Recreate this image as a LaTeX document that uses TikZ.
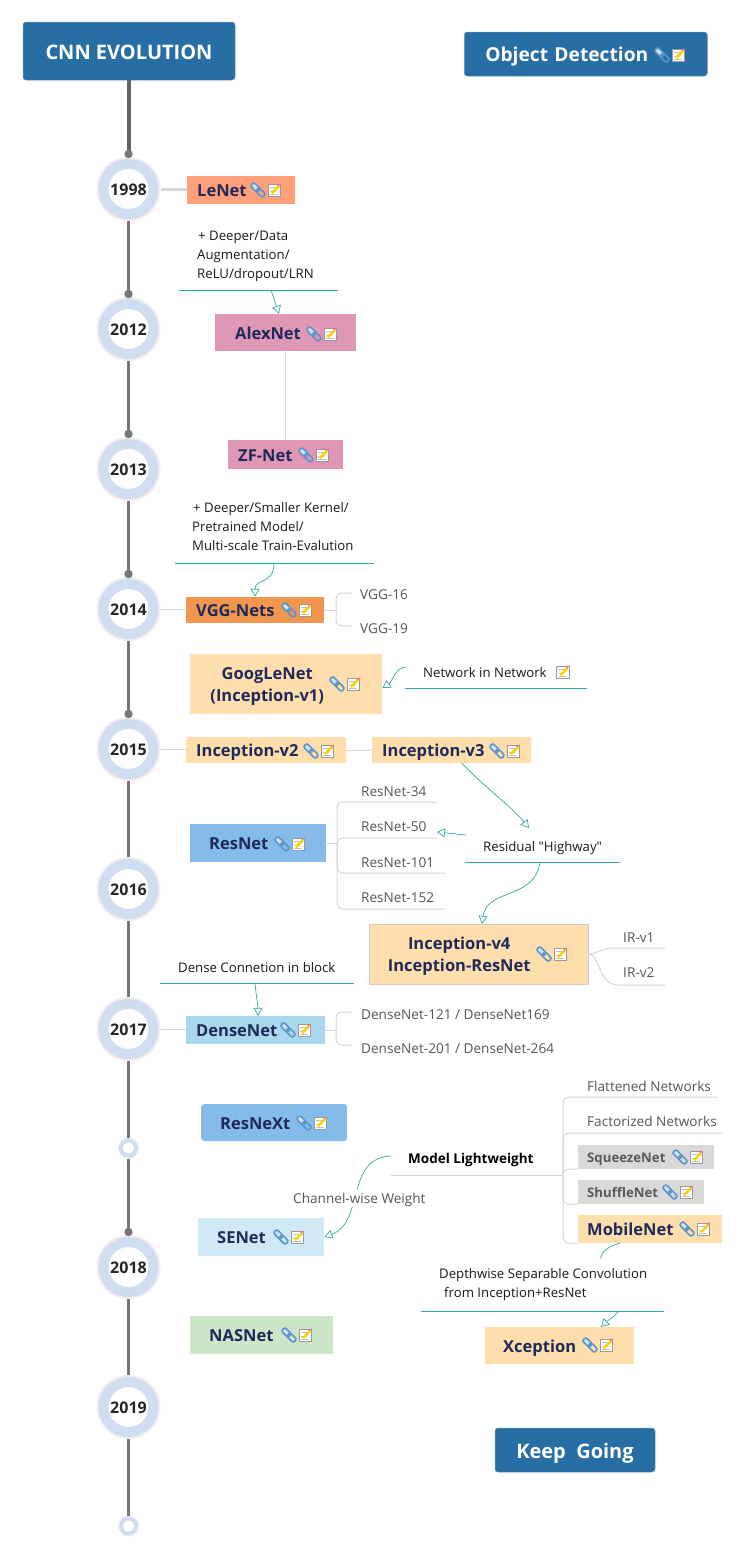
\documentclass[tikz,border=0pt]{standalone}
\usepackage{fontspec}
\setmainfont{Open Sans}[BoldFont={Open Sans Bold}]
\usetikzlibrary{arrows.meta}

\definecolor{rootblue}{HTML}{266EA3}
\definecolor{ringblue}{HTML}{D0DDF0}
\definecolor{ringpink}{HTML}{F3EAF3}
\definecolor{spine}{HTML}{777777}
\definecolor{teal}{HTML}{2FA8A0}
\definecolor{navy}{HTML}{1F2A5A}
\definecolor{branch}{HTML}{D6D6D6}
\definecolor{leaftext}{HTML}{555555}
\definecolor{chain}{HTML}{5A95CC}
\definecolor{lenetc}{HTML}{FFA07A}
\definecolor{alexc}{HTML}{E096B5}
\definecolor{vggc}{HTML}{F2964F}
\definecolor{inceptc}{HTML}{FEDEAC}
\definecolor{resc}{HTML}{85BBE8}
\definecolor{densec}{HTML}{A8D7EE}
\definecolor{senetc}{HTML}{CFE9F6}
\definecolor{nasc}{HTML}{CDE6C8}
\definecolor{lightc}{HTML}{D9D9D9}

\newcommand{\labstrut}{\leavevmode\vrule width 0pt height 1.04em depth .2em\relax}

\tikzset{
	lab/.style={inner sep=0,execute at begin node=\labstrut,execute at end node=\labstrut},
	rootbox/.style={rectangle,rounded corners=3,fill=rootblue,draw=rootblue!70!white,line width=.5,text=white,font=\bfseries\fontsize{20}{22}\selectfont,align=left,lab},
	yearring/.style={circle,minimum size=50,inner sep=0,outer sep=7,line width=10,draw=ringblue,fill=white,preaction={draw=ringpink,line width=14},font=\bfseries\fontsize{16}{20}\selectfont,text=black!85,lab},
	tickring/.style={circle,minimum size=15,inner sep=0,outer sep=3,line width=4,draw=ringblue,fill=white,preaction={draw=ringpink,line width=6}},
	netbox/.style={rectangle,anchor=west,lab,inner ysep=0,inner xsep=10,align=left,text=navy,font=\bfseries\fontsize{16.5}{21}\selectfont},
	paper/.style={lab,anchor=west,align=left,text=black!90,font=\fontsize{13.2}{19}\selectfont},
	leaf/.style={lab,anchor=west,text=leaftext,font=\fontsize{13.6}{19}\selectfont},
	spineline/.style={draw=spine,line width=2.5},
	twig/.style={draw=branch,line width=1},
	stem/.style={draw=branch,line width=3},
	noterule/.style={draw=teal,line width=.8},
	noteto/.style={draw=teal,line width=.7,-{Triangle[open,length=8,width=9]}},
	linkicon/.pic={
		\begin{scope}[rotate=-45]
			\draw[draw=chain,fill=chain!25!white,line width=1.7,rounded corners=2.2] (-8.5,-2.5) rectangle (1,2.5);
			\draw[draw=chain,line width=1.7,rounded corners=2.2] (-1,-2.5) rectangle (8.5,2.5);
		\end{scope}
	},
	noteicon/.pic={
		\draw[draw=black!40,fill=white,line width=.8] (-6.5,-6) rectangle (6,6.5);
		\draw[draw=black!25,line width=.6] (-4.5,-2.5) -- (2,-2.5) (-4.5,1) -- (1,1) (-4.5,4) -- (3,4);
		\draw[draw=yellow!70!orange,line width=2.5] (-2.5,3) -- (4.5,-4);
		\fill[red!60!white] (4,-3.5) -- (6.5,-6.5) -- (3,-5) -- cycle;
	},
	iconpair/.pic={
		\pic at (0,0) {linkicon};
		\pic at (16.5,0) {noteicon};
	}
}

\begin{document}
\begin{tikzpicture}[x=1pt,y=-1pt]
	\useasboundingbox (0,0) rectangle (743,1558);

	% header boxes
	\node[rootbox,minimum width=212,minimum height=58] (cnnroot) at (129,51) {CNN EVOLUTION};
	\node[rootbox,minimum width=243,minimum height=44,anchor=west,text width=201,inner xsep=21,font=\bfseries\fontsize{19.2}{22}\selectfont] (objdet) at (464,54) {Object Detection};
	\node[rootbox,minimum width=160,minimum height=44] (keepgoing) at (575,1450) {Keep\ \ Going};

	% timeline
	\foreach \yname/\ylab/\ypos in {y1998/1998/189,y2012/2012/329,y2013/2013/469,y2014/2014/609,y2015/2015/749,y2016/2016/889,y2017/2017/1029,y2018/2018/1267,y2019/2019/1407}
		\node[yearring] (\yname) at (128.5,\ypos) {\ylab};
	\node[tickring] (tickA) at (128.5,1148) {};
	\node[tickring] (tickB) at (128.5,1526) {};

	\draw[spine!85!black,line width=4] (y1998.north |- cnnroot.south) -- (y1998.north);
	\draw[spineline] (y1998.south) -- (y2012.north);
	\draw[spineline] (y2012.south) -- (y2013.north);
	\draw[spineline] (y2013.south) -- (y2014.north);
	\draw[spineline] (y2014.south) -- (y2015.north);
	\draw[spineline] (y2015.south) -- (y2016.north);
	\draw[spineline] (y2016.south) -- (y2017.north);
	\draw[spineline] (y2017.south) -- (tickA.north);
	\draw[spineline] (tickA.south) -- (y2018.north);
	\draw[spineline] (y2018.south) -- (y2019.north);
	\draw[spineline] (y2019.south) -- (tickB.north);
	\foreach \dotname in {y1998,y2012,y2013,y2014,y2015,y2018}
		\fill[spine] ([yshift=3]\dotname.north) circle (4.2);

	% network boxes
	\node[netbox,fill=lenetc,minimum height=28,text width=88] (lenet) at (187,190) {LeNet};
	\node[netbox,fill=alexc,minimum height=37,text width=101,inner xsep=20] (alexnet) at (215,332.5) {AlexNet};
	\node[netbox,fill=alexc,minimum height=29,text width=95] (zfnet) at (228,454.5) {ZF-Net};
	\node[netbox,fill=vggc,minimum height=26,text width=118] (vggnets) at (186,610) {VGG-Nets};
	\node[netbox,fill=inceptc,minimum height=60,text width=192,inner xsep=0,align=center] (googlenet) at (190,684) {GoogLeNet\kern38pt\\(Inception-v1)\kern38pt};
	\node[netbox,fill=inceptc,minimum height=26,text width=140] (inceptiontwo) at (186,750) {Inception-v2};
	\node[netbox,fill=inceptc,minimum height=26,text width=139] (inceptionthree) at (372,750) {Inception-v3};
	\node[netbox,fill=resc,minimum height=38,text width=98,inner xsep=19] (resnet) at (190,843) {ResNet};
	\node[netbox,fill=inceptc,draw=black!20,minimum height=60,text width=219,inner xsep=0,align=center] (inceptionfour) at (369,954) {Inception-v4\kern39pt\\Inception-ResNet\kern39pt};
	\node[netbox,fill=densec,minimum height=28,text width=119] (densenet) at (186,1030) {DenseNet};
	\node[netbox,fill=resc,rounded corners=3,minimum height=37,text width=108,inner xsep=19] (resnext) at (201,1122.5) {ResNeXt};
	\node[netbox,fill=senetc,minimum height=38,text width=88,inner xsep=19] (senet) at (198,1237) {SENet};
	\node[netbox,fill=nasc,minimum height=38,text width=105,inner xsep=19] (nasnet) at (190,1335) {NASNet};
	\node[netbox,fill=lightc,minimum height=24,text width=118,inner xsep=9,text=black!65,font=\bfseries\fontsize{13.2}{18}\selectfont] (squeezenet) at (578,1157) {SqueezeNet};
	\node[netbox,fill=lightc,minimum height=24,text width=108,inner xsep=9,text=black!65,font=\bfseries\fontsize{13.2}{18}\selectfont] (shufflenet) at (578,1192) {ShuffleNet};
	\node[netbox,fill=inceptc,minimum height=28,text width=126,inner xsep=9] (mobilenet) at (578,1229) {MobileNet};
	\node[netbox,fill=inceptc,minimum height=37,text width=113,inner xsep=18] (xception) at (485,1345.5) {Xception};

	\foreach \ix/\iy in {662/55,258/190,314/334,306/455,289/610,337/684,311/751,497/751,282/844,544/954,288/1030,304/1123,281/1237,289/1335,680/1157,670/1192,687/1229,590/1345}
		\pic at (\ix,\iy) {iconpair};
	\pic at (563,672) {noteicon};

	% stems on the timeline
	\draw[stem] (y1998.east) -- (lenet.west |- y1998.east);
	\draw[twig] (y2014.east) -- (vggnets.west |- y2014.east);
	\draw[twig] (y2015.east) -- (inceptiontwo.west |- y2015.east);
	\draw[twig] (inceptiontwo.east) -- (inceptionthree.west);
	\draw[twig] (y2017.east) -- (densenet.west |- y2017.east);
	\draw[twig] (alexnet.south) -- (zfnet.north -| alexnet.south);

	% VGG leaves
	\node[leaf] (vggsixteen) at (360,594) {VGG-16};
	\node[leaf] (vggnineteen) at (360,628) {VGG-19};
	\coordinate (vggfork) at (336,610);
	\coordinate (vggup) at (352,593);
	\coordinate (vggdown) at (352,626);
	\draw[twig] (vggnets.east) -- (vggfork);
	\draw[twig,rounded corners=6] (vggup) -- (vggup -| vggfork) -- (vggdown -| vggfork) -- (vggdown);

	% ResNet leaves
	\node[leaf] (resthreefour) at (361,791) {ResNet-34};
	\node[leaf] (resfifty) at (361,826) {ResNet-50};
	\node[leaf] (reshundred) at (361,862) {ResNet-101};
	\node[leaf] (resonefive) at (361,897) {ResNet-152};
	\coordinate (resfork) at (337,843);
	\coordinate (resendA) at (437,802);
	\coordinate (resendB) at (437,838);
	\coordinate (resendC) at (445,873);
	\coordinate (resendD) at (445,909);
	\draw[twig] (resnet.east) -- (resfork);
	\draw[twig,rounded corners=6] (resendA) -- (resendA -| resfork) -- (resendD -| resfork) -- (resendD);
	\draw[twig,rounded corners=6] (resendB) -- (resendB -| resfork) -- (resendC -| resfork) -- (resendC);

	% Inception leaves
	\node[leaf] (irone) at (623,937) {IR-v1};
	\node[leaf] (irtwo) at (623,972) {IR-v2};
	\coordinate (irendA) at (665,948);
	\coordinate (irendB) at (665,985);
	\draw[twig] (inceptionfour.east) .. controls (598,954) and (600,948) .. (615,948) -- (irendA);
	\draw[twig] (inceptionfour.east) .. controls (600,954) and (598,985) .. (618,985) -- (irendB);

	% DenseNet leaves
	\node[leaf] (densetop) at (361,1014) {DenseNet-121 / DenseNet169};
	\node[leaf] (densebot) at (361,1048) {DenseNet-201 / DenseNet-264};
	\coordinate (densefork) at (336,1030);
	\coordinate (denseup) at (352,1012);
	\coordinate (densedown) at (352,1045);
	\draw[twig] (densenet.east) -- (densefork);
	\draw[twig,rounded corners=6] (denseup) -- (denseup -| densefork) -- (densedown -| densefork) -- (densedown);

	% Model lightweight
	\node[lab,anchor=west,text=black,font=\bfseries\fontsize{13.5}{18}\selectfont] (lightweight) at (408,1158) {Model Lightweight};
	\coordinate (lightA) at (391,1175);
	\coordinate (lightfork) at (563,1175);
	\draw[twig] (lightA) -- (lightfork);
	\node[leaf] (flattened) at (587,1086) {Flattened Networks};
	\node[leaf] (factorized) at (587,1121) {Factorized Networks};
	\coordinate (flatend) at (717,1097);
	\coordinate (factend) at (722,1133);
	\draw[twig,rounded corners=6] (flatend) -- (flatend -| lightfork) -- (mobilenet.south west -| lightfork) -- (mobilenet.south west);
	\draw[twig,rounded corners=6] (factend) -- (factend -| lightfork) -- (shufflenet.south west -| lightfork) -- (shufflenet.south west);
	\draw[twig,rounded corners=6] (squeezenet.south west) -- (squeezenet.south west -| lightfork) -- (lightfork);

	% notes with a rule and an arrow
	\node[paper] (notealex) at (197,256) {\hspace*{1pt}+ Deeper/Data\\Augmentation/\\ReLU/dropout/LRN};
	\coordinate (alexruleA) at (179,290);
	\coordinate (alexruleB) at (338,290);
	\draw[noterule] (alexruleA) -- (alexruleB);
	\draw[noteto] (271,290) -- (alexnet.north -| 279,0);

	\node[paper] (notevgg) at (192,528) {\hspace*{1pt}+ Deeper/Smaller Kernel/\\Pretrained Model/\\Multi-scale Train-Evalution};
	\coordinate (vggruleA) at (175,563);
	\coordinate (vggruleB) at (374,563);
	\draw[noterule] (vggruleA) -- (vggruleB);
	\draw[noteto] (274,563) .. controls (274,585) and (255,578) .. (vggnets.north -| 255,0);

	\node[paper] (notenin) at (423,672) {Network in Network};
	\coordinate (ninruleA) at (405,688);
	\coordinate (ninruleB) at (587,688);
	\draw[noterule] (ninruleA) -- (ninruleB);
	\draw[noteto] (405.5,667) .. controls (395,668) and (392,682) .. (googlenet.east |- 0,688);

	\node[paper] (notehighway) at (483,846) {Residual \textquotedbl{}Highway\textquotedbl{}};
	\coordinate (highruleA) at (465,862);
	\coordinate (highruleB) at (620,862);
	\draw[noterule] (highruleA) -- (highruleB);
	\draw[noteto] (inceptionthree.south -| 462,0) .. controls (485,788) and (510,805) .. (529,828);
	\draw[noteto] (466,835) -- (resendB |- 0,832);
	\draw[noteto] (540,862) .. controls (535,900) and (487,888) .. (inceptionfour.north -| 482,0);

	\node[paper] (notedense) at (178,967) {Dense Connetion in block};
	\coordinate (denseruleA) at (160,983);
	\coordinate (denseruleB) at (354,983);
	\draw[noterule] (denseruleA) -- (denseruleB);
	\draw[noteto] (255,983) .. controls (256,995) and (258,1005) .. (densenet.north -| 258,0);

	\draw[noteto] (lightA |- 0,1156) .. controls (345,1158) and (365,1222) .. (senet.east);
	\node[leaf,fill=white,inner xsep=1] (channelwise) at (292,1198) {Channel-wise Weight};

	\draw[noteto] (mobilenet.south -| 620,0) .. controls (608,1246) and (602,1252) .. (601,1257) .. controls (600,1285) and (625,1295) .. (619,1311) .. controls (615,1316) and (606,1322) .. (xception.north -| 601,0);
	\node[paper,fill=white,minimum height=52] (notedepth) at (439,1285) {Depthwise Separable Convolution\\\hspace*{5pt}from Inception+ResNet};
	\coordinate (depruleA) at (421,1311);
	\coordinate (depruleB) at (664,1311);
	\draw[noterule] (depruleA) -- (depruleB);
\end{tikzpicture}
\end{document}
